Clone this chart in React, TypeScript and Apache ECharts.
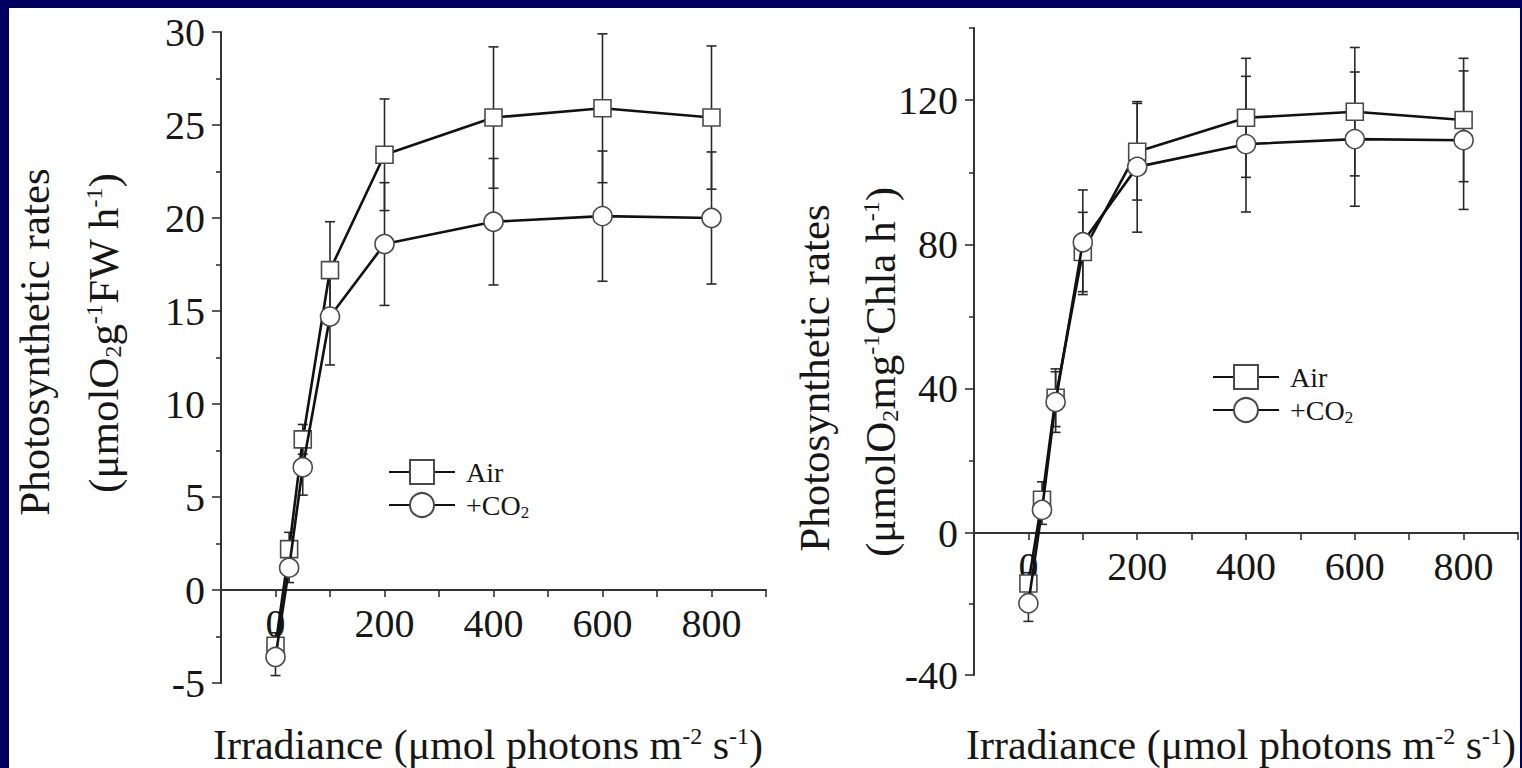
import React, { useEffect, useRef } from "react";
import * as echarts from "echarts";

// ---- data ----
const irradiance = [0, 25, 50, 100, 200, 400, 600, 800];

// Left panel: µmol O2 g-1 FW h-1
const airFW = [-3.0, 2.2, 8.1, 17.2, 23.4, 25.4, 25.9, 25.4];
const airFWErr = [0.7, 0.9, 0.8, 2.6, 3.0, 3.8, 4.0, 3.85];
const co2FW = [-3.6, 1.2, 6.6, 14.7, 18.6, 19.8, 20.1, 20.0];
const co2FWErr = [1.0, 0.8, 1.5, 2.6, 3.3, 3.4, 3.5, 3.55];

// Right panel: µmol O2 mg-1 Chla h-1
const airChl = [-14, 9.2, 37.5, 77.9, 105.7, 115.1, 116.8, 114.5];
const airChlErr = [3, 5, 8, 11, 13.4, 16.5, 17.8, 17.1];
const co2Chl = [-19.5, 6.4, 36.3, 80.6, 101.5, 107.8, 109.2, 108.9];
const co2ChlErr = [5, 4, 8.4, 14.5, 18.1, 18.8, 18.6, 19.2];

// ---- axis ticks ----
const xRange = [-100, 900];
const xTickStep = 100;
const xLabelValues = [0, 200, 400, 600, 800];

// left y axis: upper part (0..30) and lower part (-5..0)
const fwUpperRange = [0, 30];
const fwUpperMajor = [0, 5, 10, 15, 20, 25, 30];
const fwUpperMinor = [2.5, 7.5, 12.5, 17.5, 22.5, 27.5];
const fwLowerRange = [-5, 0];
const fwLowerMajor = [-5];
const fwLowerMinor = [-2.5];

// right y axis: upper part (0..140) and lower part (-40..0)
const chlUpperRange = [0, 140];
const chlUpperMajor = [0, 40, 80, 120];
const chlUpperMinor = [20, 60, 100, 140];
const chlLowerRange = [-40, 0];
const chlLowerMajor = [-40];
const chlLowerMinor = [-20];

const seriesNames = ["Air", "+CO2"];

const FONT = "'Liberation Serif', 'Times New Roman', serif";
const AXIS_COLOR = "#333";
const TEXT_COLOR = "#161616";

function errData(ys: number[], errs: number[]) {
  return irradiance.map((x, i) => [x, ys[i], errs[i]]);
}
function lineData(ys: number[]) {
  return irradiance.map((x, i) => [x, ys[i]]);
}

const errRender = (params: any, api: any) => {
  const x = api.value(0);
  const y = api.value(1);
  const e = api.value(2);
  const top = api.coord([x, y + e]);
  const bot = api.coord([x, y - e]);
  const hw = 5;
  const style = { stroke: "#2a2a2a", lineWidth: 1.6 };
  return {
    type: "group",
    children: [
      { type: "line", shape: { x1: top[0], y1: top[1], x2: bot[0], y2: bot[1] }, style },
      { type: "line", shape: { x1: top[0] - hw, y1: top[1], x2: top[0] + hw, y2: top[1] }, style },
      { type: "line", shape: { x1: bot[0] - hw, y1: bot[1], x2: bot[0] + hw, y2: bot[1] }, style },
    ],
  };
};

function xAxisShown(gridIndex: number) {
  return {
    type: "value",
    gridIndex,
    min: xRange[0],
    max: xRange[1],
    interval: xTickStep,
    position: "bottom",
    axisLine: { show: true, onZero: false, lineStyle: { color: AXIS_COLOR, width: 2 } },
    axisTick: { show: true, length: 7, lineStyle: { color: AXIS_COLOR, width: 1.6 } },
    axisLabel: {
      show: true,
      fontSize: 40,
      fontFamily: FONT,
      color: TEXT_COLOR,
      margin: 13,
      showMinLabel: true,
      showMaxLabel: true,
      formatter: (v: number) => (xLabelValues.indexOf(v) >= 0 ? String(v) : ""),
    },
    splitLine: { show: false },
  };
}

function xAxisHidden(gridIndex: number) {
  return {
    type: "value",
    gridIndex,
    min: xRange[0],
    max: xRange[1],
    show: false,
    axisLine: { show: false, onZero: false },
    splitLine: { show: false },
  };
}

function yAxes(gridIndex: number, range: number[], major: number[], minor: number[]) {
  return [
    {
      type: "value",
      gridIndex,
      min: range[0],
      max: range[1],
      position: "left",
      axisLine: { show: true, onZero: false, lineStyle: { color: AXIS_COLOR, width: 2 } },
      axisTick: { show: true, customValues: major, length: 9, lineStyle: { color: AXIS_COLOR, width: 1.6 } },
      axisLabel: {
        show: true,
        customValues: major,
        fontSize: 40,
        fontFamily: FONT,
        color: TEXT_COLOR,
        margin: 16,
      },
      splitLine: { show: false },
    },
    {
      type: "value",
      gridIndex,
      min: range[0],
      max: range[1],
      position: "left",
      axisLine: { show: false, onZero: false },
      axisTick: { show: true, customValues: minor, length: 5, lineStyle: { color: AXIS_COLOR, width: 1.6 } },
      axisLabel: { show: false },
      splitLine: { show: false },
    },
  ];
}

function panelSeries(xi: number, yi: number, air: number[], airErr: number[], co2: number[], co2Err: number[]) {
  const markerStyle = { color: "#ffffff", borderColor: "#4a4a4a", borderWidth: 1.6 };
  const lineStyle = { color: "#111", width: 2.6 };
  return [
    {
      type: "custom",
      name: "airErr",
      xAxisIndex: xi,
      yAxisIndex: yi,
      renderItem: errRender,
      data: errData(air, airErr),
      encode: { x: 0, y: 1 },
      clip: false,
      z: 1,
      silent: true,
    },
    {
      type: "custom",
      name: "co2Err",
      xAxisIndex: xi,
      yAxisIndex: yi,
      renderItem: errRender,
      data: errData(co2, co2Err),
      encode: { x: 0, y: 1 },
      clip: false,
      z: 1,
      silent: true,
    },
    {
      type: "line",
      name: seriesNames[0],
      xAxisIndex: xi,
      yAxisIndex: yi,
      data: lineData(air),
      symbol: "rect",
      symbolSize: [17, 17],
      showAllSymbol: true,
      clip: false,
      itemStyle: markerStyle,
      lineStyle,
      z: 3,
    },
    {
      type: "line",
      name: seriesNames[1],
      xAxisIndex: xi,
      yAxisIndex: yi,
      data: lineData(co2),
      symbol: "circle",
      symbolSize: 19,
      showAllSymbol: true,
      clip: false,
      itemStyle: markerStyle,
      lineStyle,
      z: 4,
    },
  ];
}

function legend(left: number, top: number) {
  return {
    orient: "vertical",
    left,
    top,
    padding: 0,
    itemWidth: 66,
    itemHeight: 30,
    itemGap: 5,
    data: seriesNames,
    selectedMode: false,
    formatter: (name: string) => (name === "+CO2" ? "+CO{sub|2}" : name),
    textStyle: {
      fontFamily: FONT,
      fontSize: 28,
      color: TEXT_COLOR,
      padding: [0, 0, 0, 6],
      rich: {
        sub: { fontFamily: FONT, fontSize: 17, color: TEXT_COLOR, verticalAlign: "bottom", padding: [14, 0, 0, 0] },
      },
    },
  };
}

const titleRich = {
  sup: { fontFamily: FONT, fontSize: 24, color: TEXT_COLOR, verticalAlign: "top" },
  sub: { fontFamily: FONT, fontSize: 24, color: TEXT_COLOR, verticalAlign: "bottom" },
};

function textEl(text: string, x: number, y: number, rotate: boolean, align = "center", fontSize = 43) {
  return {
    type: "text",
    x,
    y,
    rotation: rotate ? Math.PI / 2 : 0,
    style: {
      text,
      fontFamily: FONT,
      fontSize,
      fill: TEXT_COLOR,
      align,
      verticalAlign: "middle",
      rich: titleRich,
    },
    z: 10,
  };
}

export default function App() {
  const ref = useRef<HTMLDivElement>(null);
  useEffect(() => {
    if (!ref.current) return;
    const chart = echarts.init(ref.current, undefined, { renderer: "svg" });
    const option: any = {
      animation: false,
      backgroundColor: "transparent",
      grid: [
        { left: 221, top: 32, width: 545, height: 558 }, // left, 0..30
        { left: 221, top: 590, width: 545, height: 93 }, // left, -5..0
        { left: 974, top: 28, width: 544, height: 505 }, // right, 0..140
        { left: 974, top: 533, width: 544, height: 142 }, // right, -40..0
      ],
      xAxis: [xAxisShown(0), xAxisHidden(1), xAxisShown(2), xAxisHidden(3)],
      yAxis: [
        ...yAxes(0, fwUpperRange, fwUpperMajor, fwUpperMinor),
        ...yAxes(1, fwLowerRange, fwLowerMajor, fwLowerMinor),
        ...yAxes(2, chlUpperRange, chlUpperMajor, chlUpperMinor),
        ...yAxes(3, chlLowerRange, chlLowerMajor, chlLowerMinor),
      ],
      legend: [legend(388, 458), legend(1212, 363)],
      series: [
        ...panelSeries(0, 0, airFW, airFWErr, co2FW, co2FWErr),
        ...panelSeries(2, 4, airChl, airChlErr, co2Chl, co2ChlErr),
      ],
      graphic: [
        textEl("Photosynthetic rates", 34, 342, true),
        textEl("(μmolO{sub|2}g{sup|-1}FW h{sup|-1})", 103, 333, true),
        textEl("Photosynthetic rates", 814, 378, true),
        textEl("(μmolO{sub|2}mg{sup|-1}Chla h{sup|-1})", 880, 372, true),
        textEl("Irradiance (μmol photons m{sup|-2} s{sup|-1})", 213, 745, false, "left", 42),
        textEl("Irradiance (μmol photons m{sup|-2} s{sup|-1})", 966, 745, false, "left", 42),
      ],
    };
    chart.setOption(option);
    return () => chart.dispose();
  }, []);

  return (
    <div style={{ position: "fixed", left: 0, top: 0, width: 1522, height: 768, background: "#02005f" }}>
      <div style={{ position: "absolute", left: 9, top: 8, width: 1511, height: 760, background: "#ffffff" }} />
      <div ref={ref} style={{ position: "absolute", left: 0, top: 0, width: 1522, height: 768 }} />
    </div>
  );
}
